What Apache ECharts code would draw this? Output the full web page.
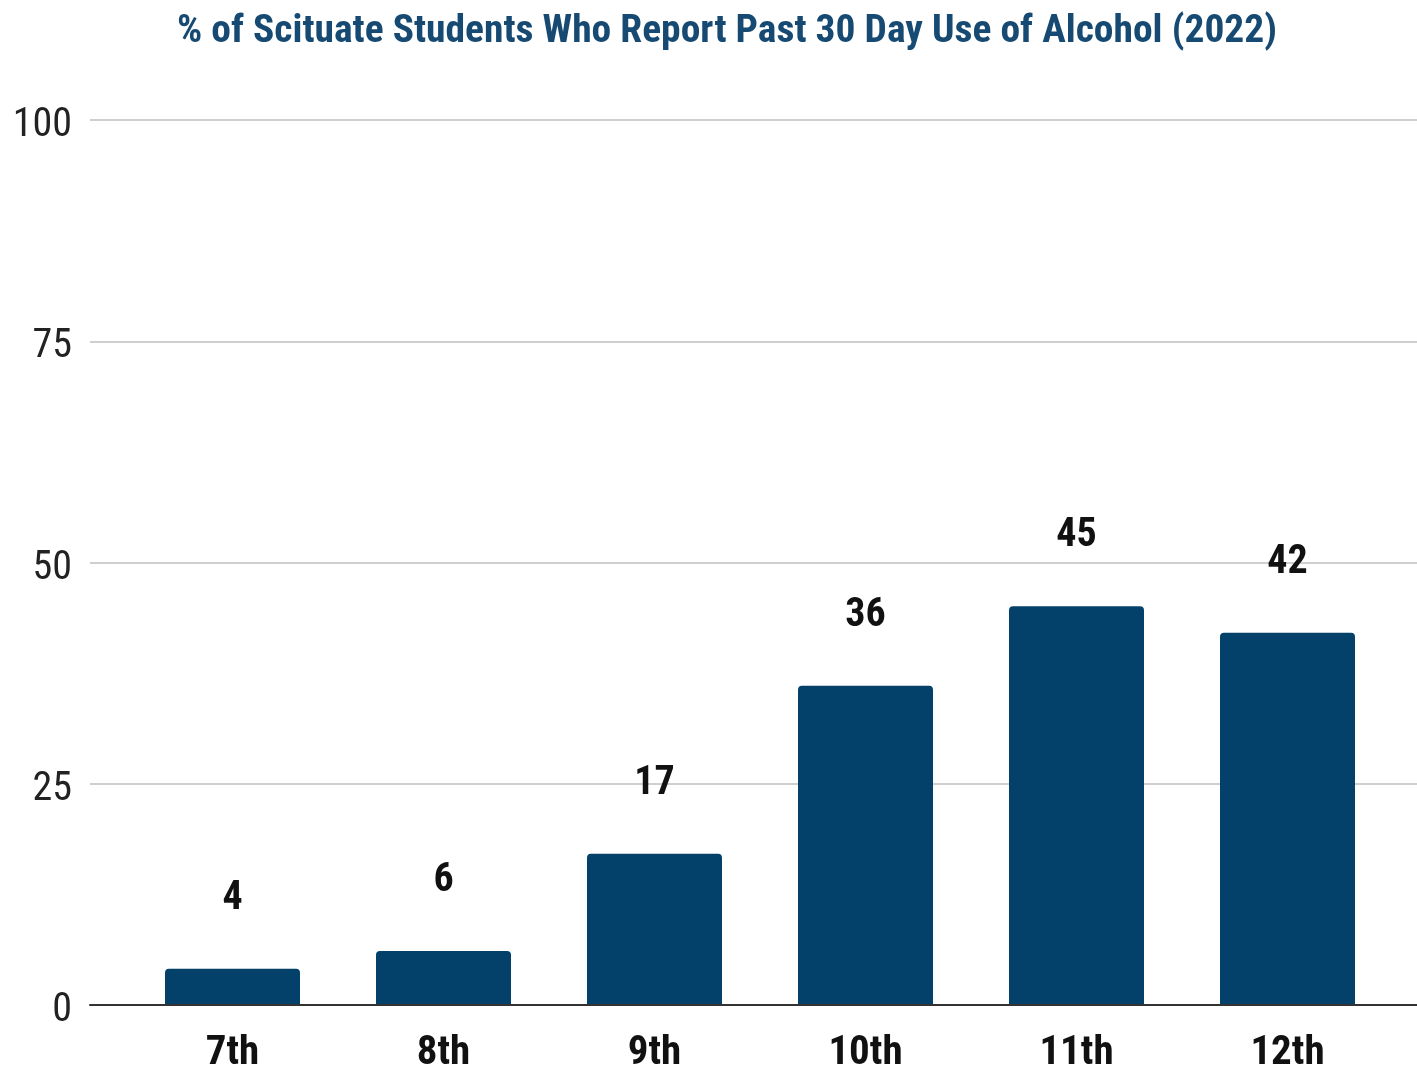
<!DOCTYPE html>
<html>
<head>
<meta charset="utf-8">
<title>Alcohol use chart</title>
<script src="https://cdn.jsdelivr.net/npm/echarts@6/dist/echarts.min.js"></script>
<style>
  html, body { margin: 0; padding: 0; background: #fff; }
  #chart { width: 1417px; height: 1074px; }
</style>
</head>
<body>
<div id="chart"></div>
<script>
  var grades = ['7th', '8th', '9th', '10th', '11th', '12th'];
  var percentages = [4, 6, 17, 36, 45, 42];
  var yTicks = [0, 25, 50, 75, 100];

  var condensed = '"Roboto Condensed", "Liberation Sans Narrow", "DejaVu Sans Condensed", Roboto, sans-serif';

  var chart = echarts.init(document.getElementById('chart'));
  chart.setOption({
    animation: false,
    title: {
      text: '% of Scituate Students Who Report Past 30 Day Use of Alcohol (2022)',
      left: 722,
      textAlign: 'center',
      top: 7,
      textStyle: {
        fontFamily: condensed,
        fontSize: 39.5,
        fontWeight: 'bold',
        color: '#164a72'
      }
    },
    grid: [
      { left: 127, right: 24, top: 120, bottom: 69 },
      { left: 90, right: 0, top: 120, bottom: 69 }
    ],
    xAxis: [
      {
        type: 'category',
        gridIndex: 0,
        data: grades,
        axisLine: { show: false },
        axisTick: { show: false },
        axisLabel: {
          margin: 29,
          fontFamily: condensed,
          fontSize: 41,
          fontWeight: 'bold',
          color: '#111'
        }
      },
      {
        type: 'value',
        gridIndex: 1,
        min: 0,
        max: 1,
        axisLine: { show: true, lineStyle: { color: '#333', width: 2 } },
        axisTick: { show: false },
        axisLabel: { show: false },
        splitLine: { show: false }
      }
    ],
    yAxis: [
      {
        type: 'value',
        gridIndex: 0,
        min: 0,
        max: 100,
        interval: 25,
        show: false
      },
      {
        type: 'value',
        gridIndex: 1,
        min: yTicks[0],
        max: yTicks[yTicks.length - 1],
        interval: 25,
        axisLine: { show: false },
        axisTick: { show: false },
        axisLabel: {
          margin: 18,
          verticalAlign: 'top',
          lineHeight: 12,
          fontFamily: condensed,
          fontSize: 40,
          color: '#222'
        },
        splitLine: { lineStyle: { color: '#cfcfcf', width: 2 } }
      }
    ],
    series: [
      {
        type: 'bar',
        xAxisIndex: 0,
        yAxisIndex: 0,
        data: percentages,
        barWidth: 135,
        itemStyle: { color: '#03416a', borderRadius: [4, 4, 0, 0] },
        label: {
          show: true,
          position: 'top',
          distance: 50,
          fontFamily: condensed,
          fontSize: 40,
          fontWeight: 'bold',
          color: '#111'
        },
        z: 3
      }
    ]
  });
</script>
</body>
</html>
